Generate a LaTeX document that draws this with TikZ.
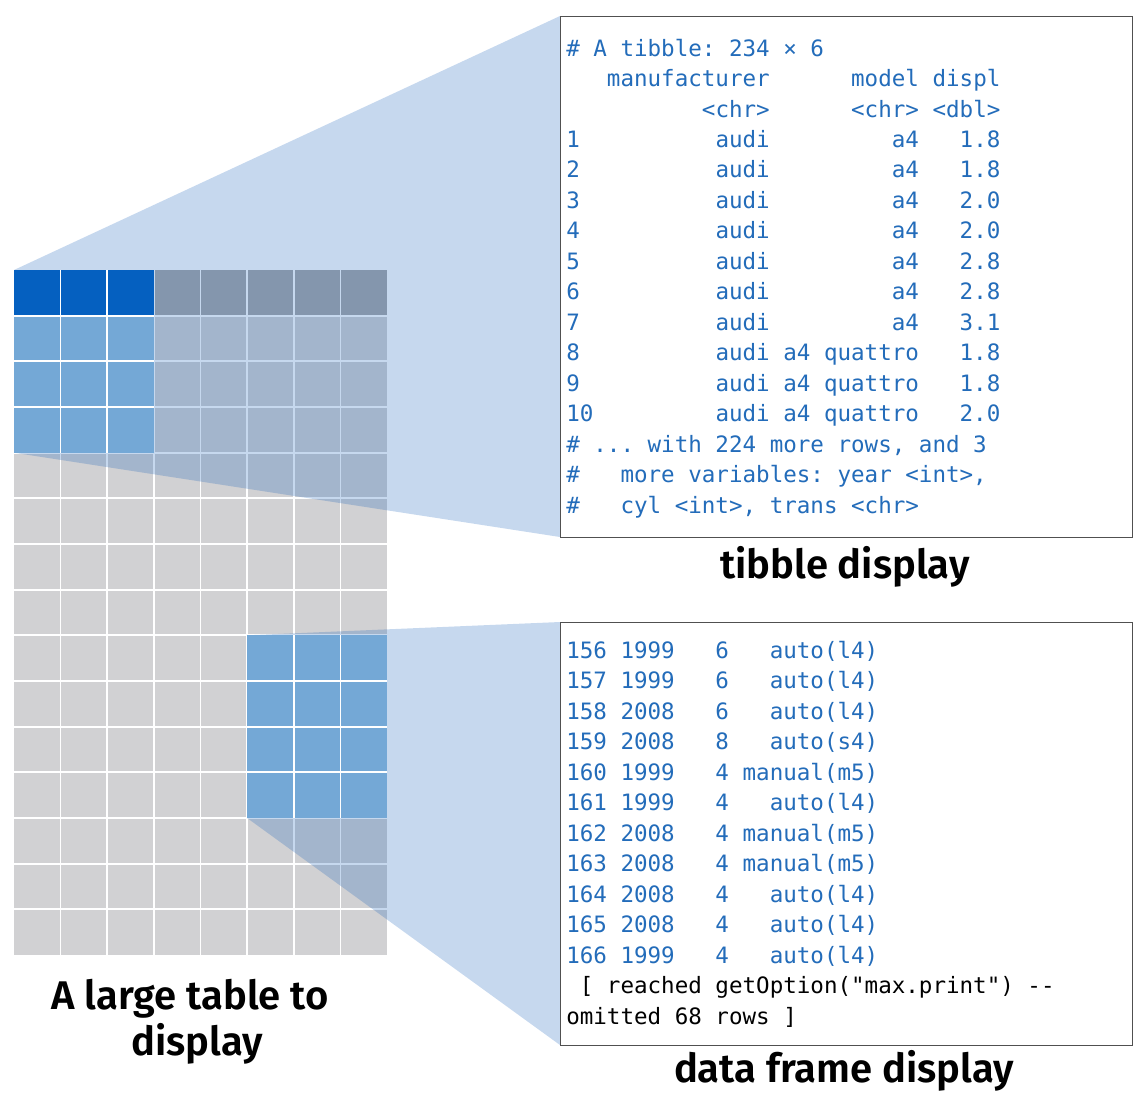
\documentclass[tikz,border=0pt]{standalone}
\usepackage{fontspec}
\setmainfont{Fira Sans}
\setmonofont{DejaVu Sans Mono}
\newfontfamily\labfont{Fira Sans SemiBold}
\definecolor{gridgrey}{RGB}{209,209,211}
\definecolor{headgrey}{RGB}{168,168,170}
\definecolor{ovl}{RGB}{18,93,184}
\definecolor{blk}{RGB}{116,168,214}
\definecolor{hdr}{RGB}{5,96,192}
\definecolor{txtblue}{RGB}{35,108,186}
\definecolor{boxgrey}{RGB}{80,80,80}
\tikzset{
  mono/.style={font=\ttfamily\fontsize{16.9}{20}\selectfont\frenchspacing, text=txtblue, anchor=base west, inner sep=0pt},
  monoblack/.style={mono, text=black},
  lab/.style={font=\labfont\fontsize{30}{36}\selectfont, anchor=base, inner sep=0pt},
  panel/.style={draw=boxgrey, line width=1.1pt, fill=white, anchor=north west, inner sep=0pt},
  wline/.style={white, line width=1.3pt},
  overlay/.style={fill=ovl, fill opacity=0.24}
}
\begin{document}
\begin{tikzpicture}[x=0.75pt,y=-0.75pt]
\useasboundingbox (0,0) rectangle (1144,1110);
% large grid
\fill[gridgrey] (14,270) rectangle (387,955);
\fill[headgrey] (14,270) rectangle (387,315.67);
\foreach \i in {1,...,7} \draw[wline] ({14+\i*46.625},270) -- ({14+\i*46.625},955);
\foreach \j in {1,...,14} \draw[wline] (14,{270+\j*45.667}) -- (387,{270+\j*45.667});
% projections
\fill[overlay] (14,270) -- (560,16) -- (560,537) -- (14,452.7) -- cycle;
\fill[overlay] (247.125,635.3) -- (560,622) -- (560,1045) -- (247.125,818) -- cycle;
% highlighted blocks
\fill[blk] (14,270) rectangle (153.875,452.7);
\fill[hdr] (14,270) rectangle (153.875,315.67);
\foreach \x in {60.625,107.25} \draw[wline] (\x,270) -- (\x,452.7);
\foreach \y in {315.67,361.33,407} \draw[wline] (14,\y) -- (153.875,\y);
\fill[blk] (247.125,635.3) rectangle (387,818);
\foreach \x in {293.75,340.375} \draw[wline] (\x,635.3) -- (\x,818);
\foreach \y in {681,726.67,772.33} \draw[wline] (247.125,\y) -- (387,\y);
% panels
\node[panel, minimum width=429pt, minimum height=390.75pt] (tib) at (560,16) {};
\node[panel, minimum width=429pt, minimum height=317.25pt] (df) at (560,622) {};
% tibble text
\node[mono] (t0) at (566,56) {\#~A~tibble:~234~×~6};
\node[mono] (t1) at (566,86.5) {~~~manufacturer~~~~~~model~displ};
\node[mono] (t2) at (566,117) {~~~~~~~~~~<chr>~~~~~~<chr>~<dbl>};
\node[mono] (t3) at (566,147.4) {1~~~~~~~~~~audi~~~~~~~~~a4~~~1.8};
\node[mono] (t4) at (566,177.9) {2~~~~~~~~~~audi~~~~~~~~~a4~~~1.8};
\node[mono] (t5) at (566,208.4) {3~~~~~~~~~~audi~~~~~~~~~a4~~~2.0};
\node[mono] (t6) at (566,238.8) {4~~~~~~~~~~audi~~~~~~~~~a4~~~2.0};
\node[mono] (t7) at (566,269.3) {5~~~~~~~~~~audi~~~~~~~~~a4~~~2.8};
\node[mono] (t8) at (566,299.8) {6~~~~~~~~~~audi~~~~~~~~~a4~~~2.8};
\node[mono] (t9) at (566,330.3) {7~~~~~~~~~~audi~~~~~~~~~a4~~~3.1};
\node[mono] (t10) at (566,360.7) {8~~~~~~~~~~audi~a4~quattro~~~1.8};
\node[mono] (t11) at (566,391.2) {9~~~~~~~~~~audi~a4~quattro~~~1.8};
\node[mono] (t12) at (566,421.7) {10~~~~~~~~~audi~a4~quattro~~~2.0};
\node[mono] (t13) at (566,452.1) {\#~...~with~224~more~rows,~and~3};
\node[mono] (t14) at (566,482.6) {\#~~~more~variables:~year~<int>,};
\node[mono] (t15) at (566,513.1) {\#~~~cyl~<int>,~trans~<chr>};
% data frame text
\node[mono] (d0) at (566,658) {156~1999~~~6~~~auto(l4)};
\node[mono] (d1) at (566,688.5) {157~1999~~~6~~~auto(l4)};
\node[mono] (d2) at (566,719) {158~2008~~~6~~~auto(l4)};
\node[mono] (d3) at (566,749.5) {159~2008~~~8~~~auto(s4)};
\node[mono] (d4) at (566,780) {160~1999~~~4~manual(m5)};
\node[mono] (d5) at (566,810.5) {161~1999~~~4~~~auto(l4)};
\node[mono] (d6) at (566,841) {162~2008~~~4~manual(m5)};
\node[mono] (d7) at (566,871.5) {163~2008~~~4~manual(m5)};
\node[mono] (d8) at (566,902) {164~2008~~~4~~~auto(l4)};
\node[mono] (d9) at (566,932.5) {165~2008~~~4~~~auto(l4)};
\node[mono] (d10) at (566,963) {166~1999~~~4~~~auto(l4)};
\node[monoblack] (d11) at (566,993.5) {~[~reached~getOption("max.print")~--};
\node[monoblack] (d12) at (566,1024) {omitted~68~rows~]};
% labels
\node[lab] (ltib) at (845,578) {tibble display};
\node[lab] (ldf) at (844,1082) {data frame display};
\node[lab] (lbig1) at (190,1009) {A large table to};
\node[lab] (lbig2) at (197,1055) {display};
\end{tikzpicture}
\end{document}
